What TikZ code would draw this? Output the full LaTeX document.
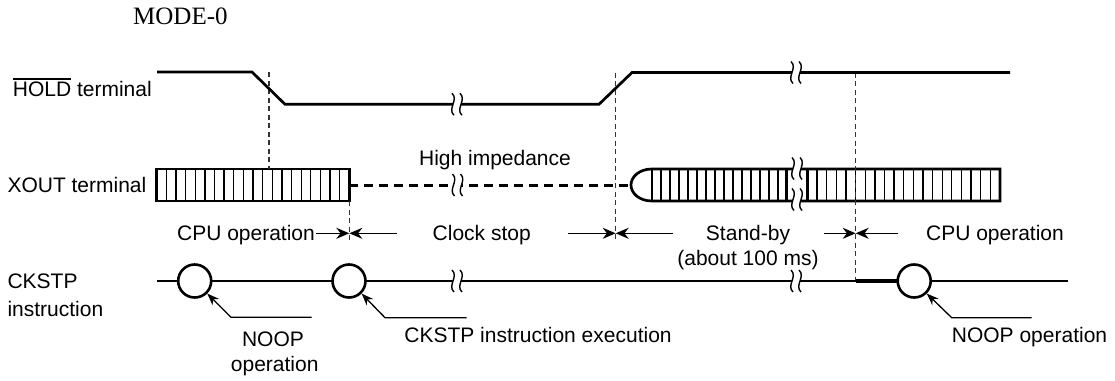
\documentclass[tikz,border=0pt]{standalone}
\usepackage{fontspec}
\setmainfont{Liberation Sans}
\newfontfamily\serifmode{Liberation Serif}
\usetikzlibrary{arrows.meta}
\newcommand\myovl[1]{\leavevmode\setbox0\hbox{#1}\rlap{\raisebox{\dimexpr\ht0+2.5pt\relax}{\rule{\wd0}{1.4pt}}}\box0\relax}
\newcommand\brkmark[3]{%
  \begin{scope}[shift={(#1,#2)}]
    \fill[white] (-5,-#3) .. controls (2,-0.4*#3) and (-10,0.4*#3) .. (-3,#3) -- (5,#3) .. controls (-2,0.4*#3) and (10,-0.4*#3) .. (3,-#3) -- cycle;
    \draw[line width=1.4pt] (-5,-#3) .. controls (2,-0.4*#3) and (-10,0.4*#3) .. (-3,#3);
    \draw[line width=1.4pt] (3,-#3) .. controls (10,-0.4*#3) and (-2,0.4*#3) .. (5,#3);
  \end{scope}}
\begin{document}
\begin{tikzpicture}[x=1pt,y=-1pt,
  sig/.style={line width=2.7pt, line join=miter},
  hatch/.style={line width=1.3pt},
  guide/.style={black!80, line width=1.3pt, dash pattern=on 5pt off 3.5pt},
  hiz/.style={line width=3pt, dash pattern=on 9pt off 6pt},
  lbl/.style={font=\fontsize{21}{24}\selectfont, inner sep=0pt},
  dim/.style={line width=1.3pt, -{Stealth[length=13pt,width=11pt]}},
  lead/.style={line width=1.3pt, -{Stealth[length=12pt,width=9pt]}},
  ev/.style={circle, draw, fill=white, line width=2.6pt, minimum size=33pt, inner sep=0pt},
]
\useasboundingbox (0,0) rectangle (1115,380);

% ---- labels
\node[lbl, anchor=base west] (mode) at (133,24) {\serifmode\fontsize{25}{28}\selectfont MODE-0};
\node[lbl, anchor=base west] (tHold) at (12.7,96.7) {\myovl{HOLD} terminal};
\node[lbl, anchor=base west] (tXout) at (7.3,192.7) {XOUT terminal};
\node[lbl, anchor=base west] (tCk1) at (7.3,288.3) {CKSTP};
\node[lbl, anchor=base west] (tCk2) at (7.3,316.7) {instruction};

% ---- XOUT left box
\draw[sig] (156.7,169) rectangle (349.3,201);
\foreach \i in {1,...,19} \draw[hatch] ({156.7+\i*9.63},169) -- ++(0,32);

% ---- XOUT right box
\draw[sig] (1000,169) -- (652,169) .. controls (639,169) and (631,177) .. (631,185) .. controls (631,193) and (639,201) .. (652,201) -- (1000,201) -- cycle;
\foreach \i in {0,...,14} \draw[hatch] ({652+\i*9.0},169) -- ++(0,32);
\foreach \i in {1,...,19} \draw[hatch] ({807.5+\i*9.62},169) -- ++(0,32);
\draw[sig] (786.5,169) -- (786.5,201);
\draw[sig] (807.5,169) -- (807.5,201);

% ---- high impedance
\draw[hiz] (349.3,185) -- (631,185);

% ---- guides
\draw[guide] (269,72) -- (269,169);
\draw[guide] (349.3,201) -- (349.3,240);
\draw[guide] (615.7,72.5) -- (615.7,241);
\draw[guide] (855.7,72.5) -- (855.7,281);

% ---- HOLD signal
\draw[sig] (157,72) -- (252,72) -- (285,104.3) -- (599,104.3) -- (632,72.5) -- (1010,72.5);

% ---- CKSTP line
\draw[sig] (157,281) -- (1068,281);
\draw[line width=3.1pt] (855.7,281) -- (898,281);

% ---- breaks
\brkmark{457}{104.3}{11}
\brkmark{796}{72.5}{11}
\brkmark{457.5}{185}{11}
\brkmark{797}{168.5}{11}
\brkmark{797}{199.5}{11}
\brkmark{457}{281}{11}
\brkmark{796}{281}{11}

% ---- events
\node[ev] (c1) at (194.7,281) {};
\node[ev] (c2) at (349,281) {};
\node[ev] (c3) at (914.2,281) {};

% ---- leaders
\coordinate (e1) at (311.7,317.3); \coordinate (k1) at (231,317.3);
\coordinate (e2) at (466.7,317.7); \coordinate (k2) at (385,317.7);
\coordinate (e3) at (1031.7,317.7); \coordinate (k3) at (951.7,317.7);
\draw[lead] (e1) -- (k1) -- (c1.-45);
\draw[lead] (e2) -- (k2) -- (c2.-45);
\draw[lead] (e3) -- (k3) -- (c3.-45);
\node[lbl, anchor=base] (nA1) at (273,346.7) {NOOP};
\node[lbl, anchor=base] (nA2) at (274.7,371) {operation};
\node[lbl, anchor=base] (nB) at (538,342.7) {CKSTP instruction execution};
\node[lbl, anchor=base] (nC) at (1029.5,342.7) {NOOP operation};

% ---- phase labels and dimension arrows
\node[lbl, anchor=base] (hiz) at (495,165.7) {High impedance};
\node[lbl, anchor=base] (p1) at (246,240) {CPU operation};
\node[lbl, anchor=base] (p2) at (481.7,240) {Clock stop};
\node[lbl, anchor=base] (p3) at (748,240.5) {Stand-by};
\node[lbl, anchor=base] (p3b) at (748,265) {(about 100 ms)};
\node[lbl, anchor=base] (p4) at (995,240) {CPU operation};

\coordinate (m1) at (349.3,233.3);
\coordinate (m2) at (615.7,233.3);
\coordinate (m3) at (855.7,233.3);
\coordinate (a1) at (316,233.3); \coordinate (b1) at (397,233.3);
\coordinate (a2) at (568,233.3); \coordinate (b2) at (673,233.3);
\coordinate (a3) at (824,233.3); \coordinate (b3) at (898.3,233.3);
\draw[dim] (a1) -- (m1); \draw[dim] (b1) -- (m1);
\draw[dim] (a2) -- (m2); \draw[dim] (b2) -- (m2);
\draw[dim] (a3) -- (m3); \draw[dim] (b3) -- (m3);
\end{tikzpicture}
\end{document}
